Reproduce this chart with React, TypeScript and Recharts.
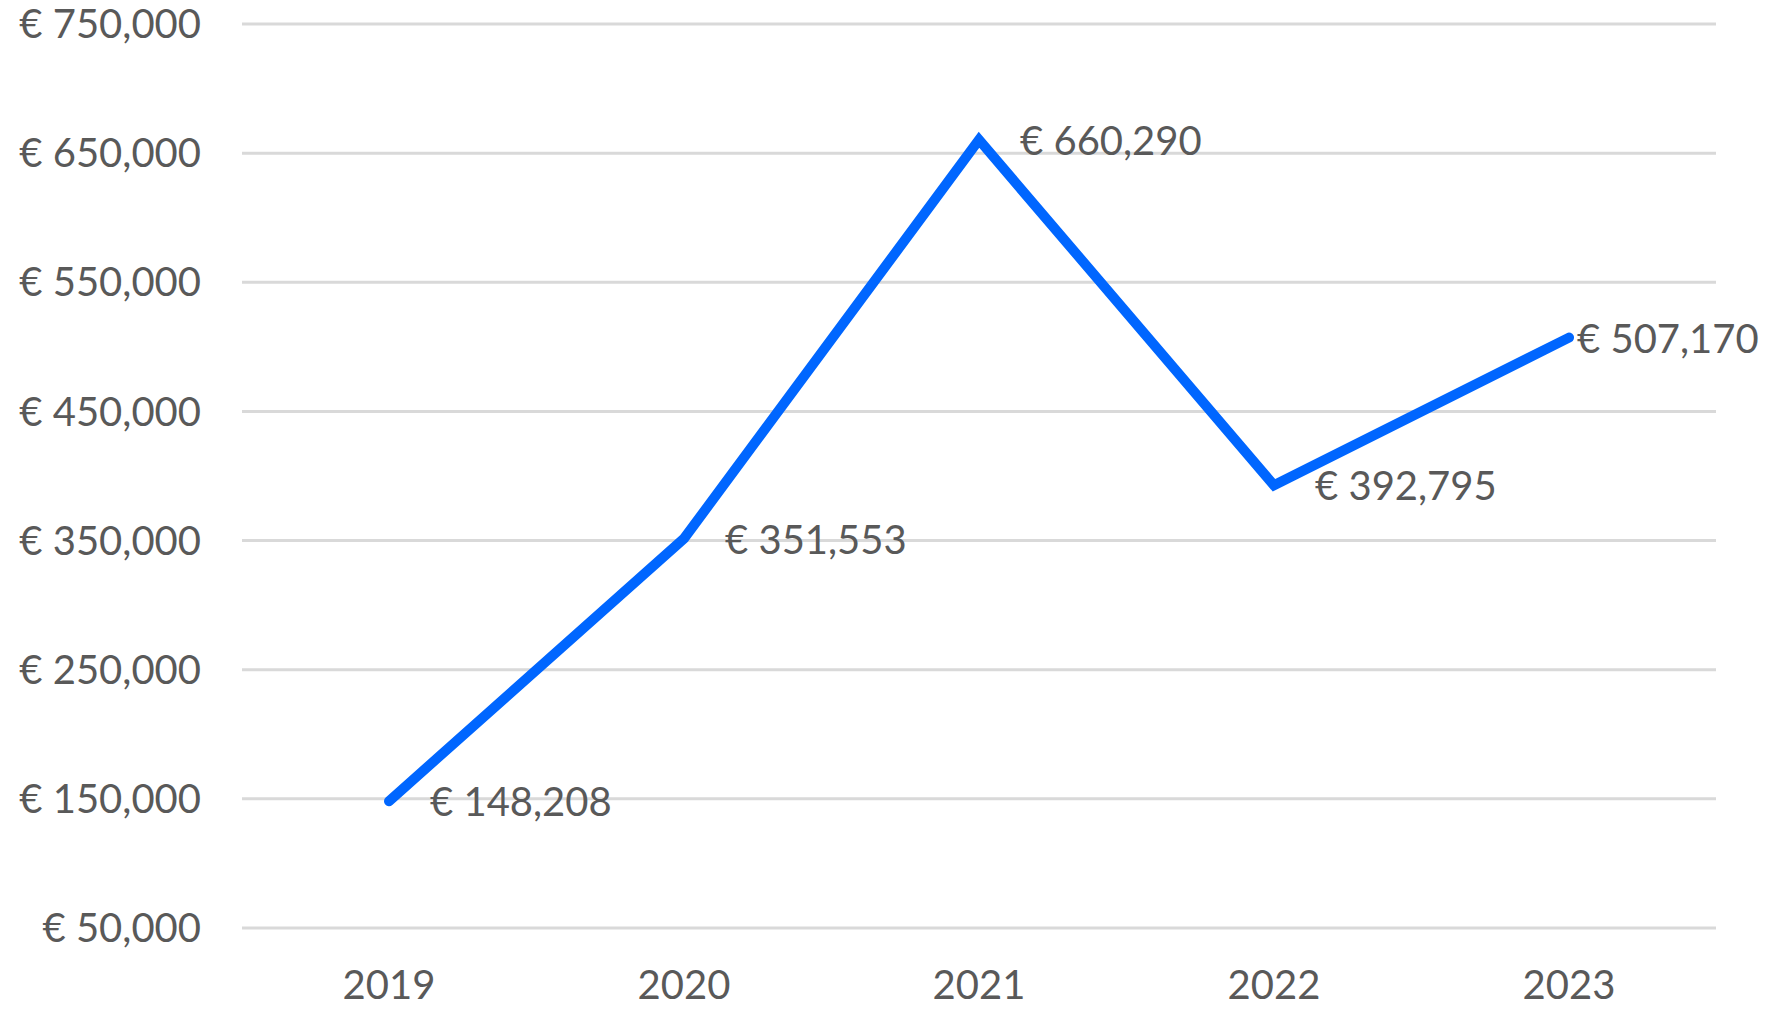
import React from 'react'
import { LineChart, Line, XAxis, YAxis, CartesianGrid, LabelList } from 'recharts'

const years = ['2019', '2020', '2021', '2022', '2023']
const revenue = [148208, 351553, 660290, 392795, 507170]
const yTicks = [50000, 150000, 250000, 350000, 450000, 550000, 650000, 750000]

const data = years.map((year, i) => ({ year, revenue: revenue[i] }))

const FONT = 'Lato, "Open Sans", sans-serif'
const TEXT = '#595959'
const BLUE = '#0066ff'

const euro = (v: number) => `€ ${v.toLocaleString('en-US')}`

// Excel puts labels to the right of the point; the last one is pushed back in so it fits
const ValueLabel = (props: any) => {
  const { x, y, value, index } = props
  const dx = index === years.length - 1 ? 8 : 41
  return (
    <text x={x + dx} y={y} fill={TEXT} fontSize={40} fontFamily={FONT} dominantBaseline="central" textAnchor="start">
      {euro(value)}
    </text>
  )
}

export default function App() {
  return (
    <div style={{ position: 'absolute', left: 0, top: 0, background: '#fff' }}>
      <LineChart width={1775} height={1009} data={data} margin={{ top: 24, right: 59, left: 0, bottom: 0 }}>
        <CartesianGrid vertical={false} stroke="#d9d9d9" strokeWidth={3} />
        <XAxis
          dataKey="year"
          axisLine={false}
          tickLine={false}
          tickSize={0}
          tickMargin={43}
          height={81}
          padding={{ left: 147, right: 147 }}
          tick={{ fontSize: 40, fill: TEXT, fontFamily: FONT }}
        />
        <YAxis
          domain={[50000, 750000]}
          ticks={yTicks}
          axisLine={false}
          tickLine={false}
          tickSize={0}
          tickMargin={41}
          width={242}
          tickFormatter={euro}
          tick={{ fontSize: 40, fill: TEXT, fontFamily: FONT }}
        />
        <Line
          type="linear"
          dataKey="revenue"
          stroke={BLUE}
          strokeWidth={10}
          strokeLinecap="round"
          strokeLinejoin="miter"
          dot={false}
          isAnimationActive={false}
        >
          <LabelList dataKey="revenue" content={<ValueLabel />} />
        </Line>
      </LineChart>
    </div>
  )
}
